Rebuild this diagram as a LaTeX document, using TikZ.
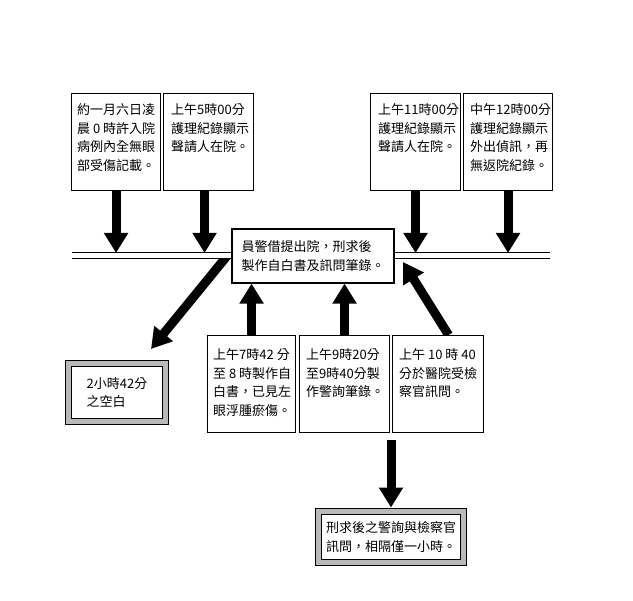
\documentclass[tikz,border=0pt]{standalone}
\usepackage{fontspec}
\newfontfamily\cjk{Noto Sans CJK TC}
\usetikzlibrary{arrows.meta,backgrounds}
\begin{document}
\begin{tikzpicture}[x=1pt,y=-1pt,
  box/.style={draw, line width=1.1pt, fill=white, inner sep=0pt, anchor=north west},
  txt/.style={font=\cjk\fontsize{13}{18.5}\selectfont, align=left, inner sep=0pt, anchor=north west},
  midbox/.style={draw, line width=1.1pt, fill=white, inner sep=0pt, font=\cjk\fontsize{13}{18.5}\selectfont, align=left},
  dbox/.style={draw, line width=1.1pt, double=gray!55, double distance=5pt, fill=white, inner sep=0pt, font=\cjk\fontsize{13}{18.5}\selectfont, align=left},
  bigarr/.style={line width=9pt, -{Triangle[width=23pt,length=20pt]}},
  rail/.style={line width=1pt}]
\useasboundingbox (0,0) rectangle (633,601);

% top boxes
\node[box, minimum width=89pt, minimum height=97pt] (b1) at (71,93) {};
\node[box, minimum width=90pt, minimum height=97pt] (b2) at (163,93) {};
\node[box, minimum width=90pt, minimum height=97pt] (b3) at (370,93) {};
\node[box, minimum width=89pt, minimum height=97pt] (b4) at (463,93) {};
\node[txt] (t1) at (77,103.5) {約一月六日凌\\晨 0 時許入院\\病例內全無眼\\部受傷記載。};
\node[txt] (t2) at (171,103.5) {上午5時00分\\護理紀錄顯示\\聲請人在院。};
\node[txt] (t3) at (378,103.5) {上午11時00分\\護理紀錄顯示\\聲請人在院。};
\node[txt] (t4) at (470,103.5) {中午12時00分\\護理紀錄顯示\\外出偵訊，再\\無返院紀錄。};

% middle box
\node[midbox, minimum width=162pt, minimum height=54pt] (mid) at (313,256) {員警借提出院，刑求後\\製作自白書及訊問筆錄。};

% bottom boxes
\node[box, minimum width=88pt, minimum height=97pt] (b5) at (207,335) {};
\node[box, minimum width=90pt, minimum height=97pt] (b6) at (299,335) {};
\node[box, minimum width=91pt, minimum height=97pt] (b7) at (392,335) {};
\node[txt] (t5) at (213,348.5) {上午7時42 分\\至 8 時製作自\\白書，已見左\\眼浮腫瘀傷。};
\node[txt] (t6) at (306,348.5) {上午9時20分\\至9時40分製\\作警詢筆錄。};
\node[txt] (t7) at (399,348.5) {上午 10 時 40\\分於醫院受檢\\察官訊問。};

% double-bordered boxes
\node[dbox, minimum width=96.6pt, minimum height=57.6pt] (lb) at (117,392.5) {2小時42分\\之空白};
\node[dbox, minimum width=144.6pt, minimum height=50.6pt] (bb) at (391,537) {刑求後之警詢與檢察官\\訊問，相隔僅一小時。};

% rail coordinates
\coordinate (L1) at (72,253);
\coordinate (L2) at (550,253);
\coordinate (L3) at (72,259);
\coordinate (L4) at (550,259);
\coordinate (dtail) at (227,256);
\coordinate (dtip) at (151,349);
\coordinate (ultip) at (403,262);
\coordinate (dstart) at (391,440);

\begin{pgfonlayer}{background}
  \draw[bigarr] (b1.south) -- (b1.south |- L1);
  \draw[bigarr] ([xshift=-4pt]b2.south) -- ([xshift=-4pt]b2.south |- L1);
  \draw[bigarr] (b3.south) -- (b3.south |- L1);
  \draw[bigarr] (b4.south) -- (b4.south |- L1);
  \draw[bigarr] (b5.north) -- (b5.north |- mid.south);
  \draw[bigarr] (b6.north) -- (b6.north |- mid.south);
  \draw[bigarr] ([xshift=10.5pt]b7.north) -- (ultip);
  \draw[bigarr] (dtail) -- (dtip);
  \draw[bigarr, shorten >=3.6pt] (dstart) -- (bb.north);
  \fill[white] (L1) rectangle (L4);
  \draw[rail] (L1) -- (L2);
  \draw[rail] (L3) -- (L4);
\end{pgfonlayer}
\end{tikzpicture}
\end{document}
